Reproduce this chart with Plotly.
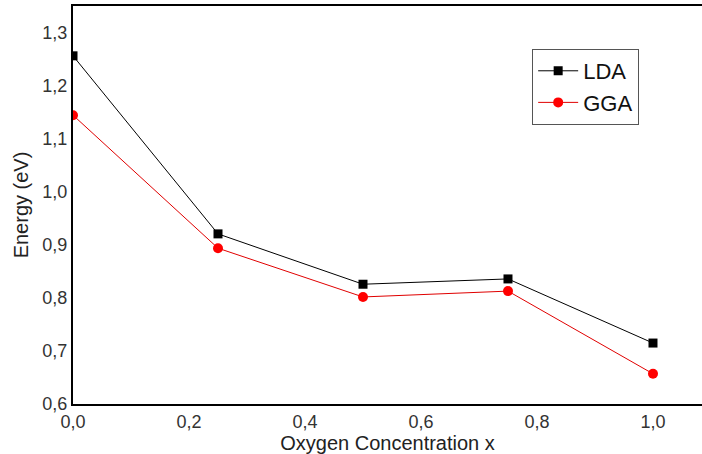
import plotly.graph_objects as go

x_conc = [0.0, 0.25, 0.5, 0.75, 1.0]
lda_energy = [1.257, 0.921, 0.826, 0.836, 0.715]
gga_energy = [1.145, 0.894, 0.802, 0.813, 0.657]
x_ticks = [0.0, 0.2, 0.4, 0.6, 0.8, 1.0]
y_ticks = [0.6, 0.7, 0.8, 0.9, 1.0, 1.1, 1.2, 1.3]

fig = go.Figure()
fig.add_trace(go.Scatter(x=x_conc, y=lda_energy, mode="lines+markers", name="LDA",
                         line=dict(color="black", width=1),
                         marker=dict(symbol="square", size=9, color="black")))
fig.add_trace(go.Scatter(x=x_conc, y=gga_energy, mode="lines+markers", name="GGA",
                         line=dict(color="#e00000", width=1),
                         marker=dict(symbol="circle", size=10, color="#ff0000")))

font_family = "Liberation Sans, Arial, sans-serif"
fig.update_layout(
    width=702, height=454,
    margin=dict(l=73, r=0, t=6, b=50),
    paper_bgcolor="white", plot_bgcolor="white",
    separators=", ",
    font=dict(family=font_family, color="#222"),
    showlegend=True,
    legend=dict(x=0.73, y=0.892, xanchor="left", yanchor="top",
                bordercolor="#555", borderwidth=1, bgcolor="white",
                font=dict(size=22, family=font_family, color="#111"),
                itemwidth=40, tracegroupgap=0, entrywidth=100, entrywidthmode="pixels"),
    xaxis=dict(range=[0, 1.0845], tickvals=x_ticks, tickformat=".1f",
               showline=True, linecolor="black", linewidth=2, mirror=True,
               showgrid=False, zeroline=False, ticks="", ticklabelstandoff=0,
               tickfont=dict(size=18, color="#333"),
               title=dict(text="Oxygen Concentration x", font=dict(size=20, color="#222"), standoff=4)),
    yaxis=dict(range=[0.6, 1.351], tickvals=y_ticks, tickformat=".1f",
               showline=True, linecolor="black", linewidth=2, mirror=False,
               showgrid=False, zeroline=False, ticks="", ticklabelstandoff=0,
               tickfont=dict(size=18, color="#333"),
               title=dict(text="Energy (eV)", font=dict(size=20, color="#222"), standoff=8)),
)

fig.write_html("out.html")
